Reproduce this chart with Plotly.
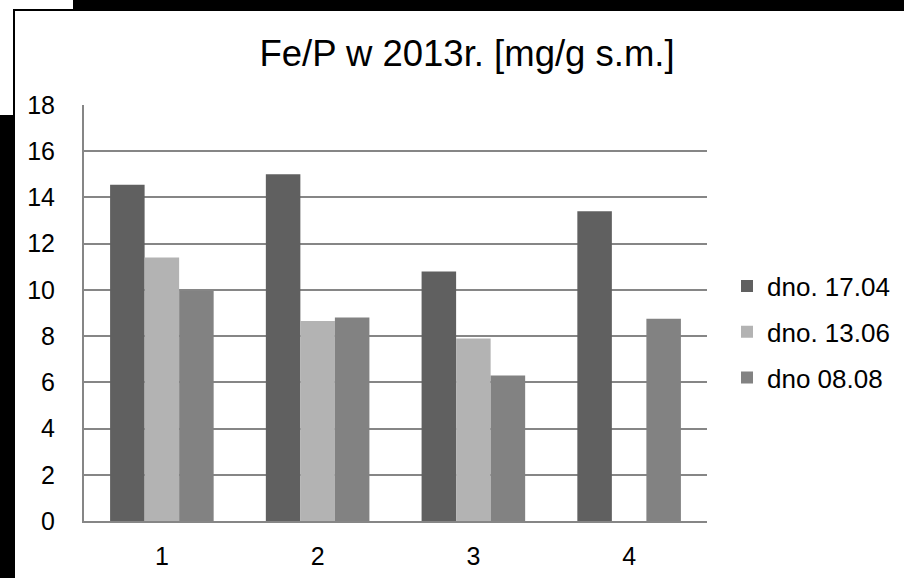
import plotly.graph_objects as go

categories = ["1", "2", "3", "4"]
series_names = ["dno. 17.04", "dno. 13.06", "dno 08.08"]
s1 = [14.55, 15.0, 10.8, 13.4]
s2 = [11.4, 8.65, 7.9, None]
s3 = [9.95, 8.8, 6.3, 8.75]
colors = ["#606060", "#b3b3b3", "#828282"]
y_ticks = list(range(0, 19, 2))

W, H = 904, 578
L, R, T, B = 84, 197, 105, 57
PW, PH = W - L - R, H - T - B


def px(x):
    return (x - L) / PW


def py(y):
    return (H - B - y) / PH


fig = go.Figure()
for name, vals, c in zip(series_names, [s1, s2, s3], colors):
    fig.add_trace(go.Bar(x=categories, y=vals, name=name, marker=dict(color=c, line=dict(width=0)),
                         legendgroup=name))

font = "Liberation Sans, Arial, sans-serif"
shapes = []
# black decorative frame pieces
for (x0, y0, x1, y1) in [(73, 0, W, 11), (13, 9, 73, 11), (13, 9, 15, 578), (0, 115, 15, 578)]:
    shapes.append(dict(type="rect", xref="paper", yref="paper", x0=px(x0), x1=px(x1), y0=py(y1), y1=py(y0),
                       fillcolor="black", line=dict(width=0), layer="above"))

fig.update_layout(
    width=W, height=H,
    margin=dict(l=L, r=R, t=T, b=B, pad=0, autoexpand=False),
    paper_bgcolor="white", plot_bgcolor="white",
    title=dict(text="Fe/P w 2013r. [mg/g s.m.]", xref="container", x=467 / W, xanchor="center",
               yref="container", y=1 - 53 / H, yanchor="middle",
               font=dict(family=font, size=36.5, color="black")),
    barmode="group", bargap=0.335, bargroupgap=0,
    font=dict(family=font, size=25, color="black"),
    xaxis=dict(showline=True, linecolor="#868686", linewidth=2, showgrid=False, ticks="",
               ticklabelstandoff=12, tickfont=dict(size=25), automargin=False),
    yaxis=dict(range=[0, 18], tickvals=y_ticks, showgrid=True, gridcolor="#868686", gridwidth=1.5,
               showline=True, linecolor="#868686", linewidth=2, zeroline=False, ticks="",
               ticklabelstandoff=22, tickfont=dict(size=25), automargin=False),
    legend=dict(x=px(727), xanchor="left", y=py(332), yanchor="middle", font=dict(size=26),
                traceorder="grouped", tracegroupgap=9, itemwidth=30, bgcolor="rgba(0,0,0,0)"),
    shapes=shapes,
    showlegend=True,
)

fig.write_html("out.html", config={"displayModeBar": False},
               post_script="document.body.style.margin='0';document.body.style.overflow='hidden';")
